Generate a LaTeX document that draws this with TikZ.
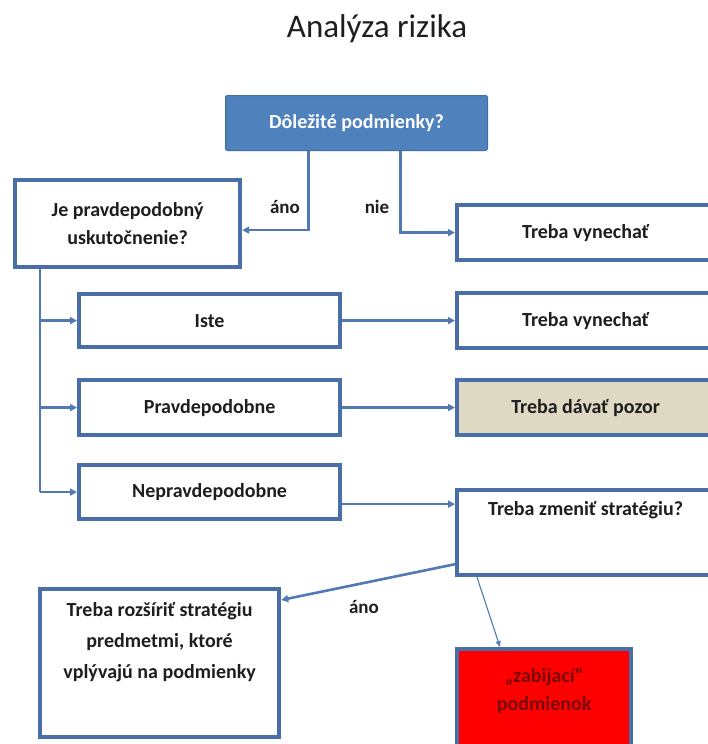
\documentclass[tikz,border=0pt]{standalone}
\usepackage{fontspec}
\setmainfont{Carlito}
\usetikzlibrary{arrows.meta,positioning,calc}
\definecolor{Ink}{HTML}{1E1E1E}
\definecolor{Edge}{HTML}{4A6FA8}
\definecolor{Head}{HTML}{4F81BD}
\definecolor{Link}{HTML}{5179B4}
\definecolor{Sand}{HTML}{DDD9C3}
\definecolor{Alarm}{HTML}{FF0000}
\definecolor{AlarmInk}{HTML}{7A0A0A}
\tikzset{
  card/.style={draw=Edge,line width=4.2pt,fill=white,text=Ink,anchor=north west,align=center,inner sep=0pt,font=\fontsize{20}{28}\selectfont\bfseries},
  headcard/.style={card,draw=Head!85!black,line width=1pt,fill=Head,text=white,rounded corners=2pt},
  link/.style={draw=Link,line width=2.6pt},
  arrow/.style={link,-{Triangle[length=7pt,width=7pt]}},
  thinarrow/.style={draw=Link,line width=1.1pt,-{Triangle[length=6pt,width=5pt]}},
  answer/.style={anchor=base,font=\fontsize{19}{22}\selectfont\bfseries,text=Ink}
}
\begin{document}
\begin{tikzpicture}[x=1pt,y=-1pt]
  \fill[white] (0,0) rectangle (707,744);
  \useasboundingbox (0,0) rectangle (707,744);
  \node[font=\fontsize{33}{40}\selectfont,text=Ink,anchor=base] (title) at (377,37) {Analýza rizika};
  \node[headcard,minimum width=262pt,minimum height=55pt] (top) at (225,95) {Dôležité podmienky?};
  \node[card,minimum width=225pt,minimum height=87pt] (je) at (13,178) {Je pravdepodobný\\uskutočnenie?};
  \node[card,minimum width=257pt,minimum height=55pt] (skip1) at (455,203) {Treba vynechať};
  \node[card,minimum width=261pt,minimum height=53pt] (iste) at (77,292) {Iste};
  \node[card,minimum width=257pt,minimum height=55pt] (skip2) at (455,291) {Treba vynechať};
  \node[card,minimum width=261pt,minimum height=55pt] (prav) at (77,378) {Pravdepodobne};
  \node[card,fill=Sand,minimum width=257pt,minimum height=55pt] (pozor) at (455,378) {Treba dávať pozor};
  \node[card,minimum width=261pt,minimum height=54pt] (nepr) at (77,463) {Nepravdepodobne};
  \node[card,minimum width=257pt,text height=25pt,text depth=60pt] (zmenit) at (455,488) {Treba zmeniť stratégiu?};
  \node[card,minimum width=239pt,text height=89pt,text depth=59pt,font=\fontsize{20}{31}\selectfont\bfseries] (rozsirit) at (38,587) {Treba rozšíriť stratégiu\\predmetmi, ktoré\\vplývajú na podmienky};
  \node[card,fill=Alarm,text=AlarmInk,minimum width=174pt,text height=61pt,text depth=52pt] (zabijak) at (455,647) {„zabijací“\\podmienok};
  \node[answer] (ano1) at (285,213) {áno};
  \node[answer] (nie) at (377,213) {nie};
  \node[answer] (ano2) at (364,613) {áno};
  \coordinate (trunk) at (40,0);
  \draw[arrow] ([xshift=-48pt]top.south) |- ([yshift=-6.5pt]je.east);
  \draw[arrow] ([xshift=44pt]top.south) |- (skip1.west);
  \draw[link] (je.south -| trunk) -- (trunk |- nepr.west);
  \foreach \n in {iste,prav,nepr}
    \draw[arrow] (trunk |- \n.west) -- (\n.west);
  \draw[arrow] (iste.east) -- (skip2.west);
  \draw[arrow] (prav.east) -- (pozor.west);
  \draw[arrow] ([yshift=-12pt]nepr.east) -- ([yshift=-12pt]nepr.east -| zmenit.west);
  \draw[arrow] ([yshift=13pt]zmenit.south west) -- ([yshift=-13pt]rozsirit.north east);
  \draw[thinarrow] ([xshift=22pt]zmenit.south west) -- ([xshift=45pt]zabijak.north west);
\end{tikzpicture}
\end{document}
